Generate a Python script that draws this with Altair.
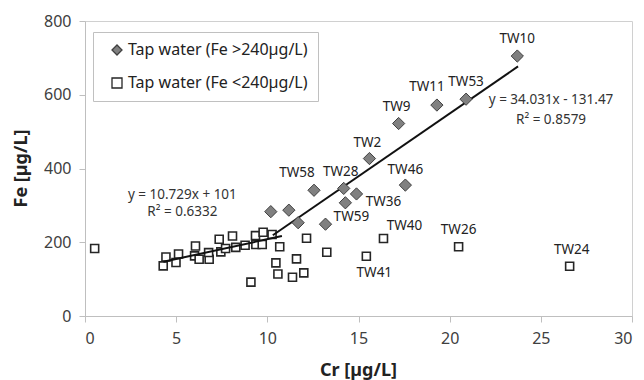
import altair as alt
import pandas as pd

# ---- data ----
hi_label = ["TW10", "TW53", "TW11", "TW9", "TW2", "TW46", "TW58", "TW28", "TW36", "TW59", "", "", "", ""]
hi_cr = [23.71, 20.9, 19.3, 17.2, 15.6, 17.57, 12.56, 14.19, 14.89, 14.28, 10.19, 11.18, 11.69, 13.19]
hi_fe = [705, 588, 572, 522, 427, 355, 341, 346, 331, 307, 283, 287, 253, 249]

lo_label = ["", "", "", "", "", "", "", "", "", "", "", "", "", "", "", "", "", "", "", "", "",
            "", "", "", "", "", "", "", "", "", "TW40", "TW41", "TW26", "TW24"]
lo_cr = [0.53, 4.29, 4.44, 4.99, 5.13, 6.06, 6.01, 6.26, 6.81, 6.78, 7.36, 7.45, 7.71, 8.09, 8.27,
         8.78, 9.35, 9.37, 9.77, 9.72, 10.26, 9.10, 10.47, 10.58, 10.68, 11.38, 11.6, 12.0, 12.15,
         13.26, 16.37, 15.43, 20.49, 26.58]
lo_fe = [183, 136, 160, 145, 168, 190, 163, 154, 154, 172, 208, 174, 183, 217, 186,
         192, 218, 194, 227, 194, 221, 92, 144, 114, 188, 105, 155, 117, 211,
         173, 210, 162, 188, 135]

group_hi = "Tap water (Fe >240µg/L)"
group_lo = "Tap water (Fe <240µg/L)"

# trend lines (from the equations printed on the chart)
fit_lo = {"slope": 10.729, "icpt": 101.0, "x0": 4.3, "x1": 10.8}
fit_hi = {"slope": 34.031, "icpt": -131.47, "x0": 10.3, "x1": 23.75}

eq_text = ["y = 10.729x + 101", "R² = 0.6332", "y = 34.031x - 131.47", "R² = 0.8579"]
eq_x = [5.34, 5.34, 25.56, 25.56]
eq_y = [328, 282, 585, 531]

# ---- tables ----
pts = pd.DataFrame({
    "Cr": hi_cr + lo_cr,
    "Fe": hi_fe + lo_fe,
    "label": hi_label + lo_label,
    "group": [group_hi] * len(hi_cr) + [group_lo] * len(lo_cr),
})
lines = []
for name, f in (("lo", fit_lo), ("hi", fit_hi)):
    for xv in (f["x0"], f["x1"]):
        lines.append({"fit": name, "Cr": xv, "Fe": f["slope"] * xv + f["icpt"]})
lines = pd.DataFrame(lines)
eqs = pd.DataFrame({"text": eq_text, "Cr": eq_x, "Fe": eq_y})

FONT = "Noto Sans"
xs = alt.Scale(domain=[0, 30], nice=False)
ys = alt.Scale(domain=[0, 800], nice=False)

xenc = alt.X("Cr:Q", scale=xs, axis=alt.Axis(
    title="Cr [µg/L]", values=[0, 5, 10, 15, 20, 25, 30], grid=False,
    titleX=273, titleY=54, titleBaseline="middle", titleAlign="center"))
yenc = alt.Y("Fe:Q", scale=ys, axis=alt.Axis(
    title="Fe [µg/L]", values=[0, 200, 400, 600, 800], grid=False,
    titleX=-64, titleY=147, titleAngle=-90, titleBaseline="middle", titleAlign="center"))

shape_scale = alt.Scale(domain=[group_hi, group_lo], range=["diamond", "square"])
fill_scale = alt.Scale(domain=[group_hi, group_lo], range=["#808080", "#ffffff"])
stroke_scale = alt.Scale(domain=[group_hi, group_lo], range=["#404040", "#262626"])
legend = alt.Legend(title=None, orient="none", legendX=8, legendY=11,
                    padding=10, rowPadding=17, symbolOffset=6, labelOffset=3,
                    labelLimit=400, symbolSize=100, labelFontSize=16, labelFont=FONT,
                    labelColor="#222222", strokeColor="#c0c0c0", fillColor="#ffffff",
                    symbolStrokeWidth=1.3)

enc = dict(
    x=xenc, y=yenc,
    shape=alt.Shape("group:N", scale=shape_scale, legend=legend),
    fill=alt.Fill("group:N", scale=fill_scale, legend=legend),
    stroke=alt.Stroke("group:N", scale=stroke_scale, legend=legend),
)

base = alt.Chart(pts)

sq = base.transform_filter(alt.datum.group == group_lo).mark_point(
    filled=False, size=64, strokeWidth=1.6, opacity=1
).encode(**enc)

dm = base.transform_filter(alt.datum.group == group_hi).mark_point(
    filled=True, size=150, strokeWidth=1.0, opacity=1
).encode(**enc)

trend = alt.Chart(lines).mark_line(color="#111111", strokeWidth=2).encode(
    x=alt.X("Cr:Q", scale=xs), y=alt.Y("Fe:Q", scale=ys), detail="fit:N")

# label offsets (pixels) relative to each point
offsets = {
    "TW10": (0, -17), "TW53": (0, -17), "TW11": (-10, -18), "TW9": (-2, -17),
    "TW2": (-2, -16), "TW46": (0, -15), "TW28": (-3, -16), "TW58": (-17, -17),
    "TW36": (27, 8), "TW59": (6, 14), "TW40": (21, -13), "TW26": (0, -17),
    "TW24": (2, -16), "TW41": (8, 17),
}
label_layers = []
for lab, (dx, dy) in offsets.items():
    label_layers.append(
        base.transform_filter(alt.datum.label == lab).mark_text(
            font=FONT, fontSize=13.5, color="#222222", dx=dx, dy=dy,
            align="center", baseline="middle"
        ).encode(x=alt.X("Cr:Q", scale=xs), y=alt.Y("Fe:Q", scale=ys), text="label:N")
    )

eq_layer = alt.Chart(eqs).mark_text(font=FONT, fontSize=13.5, color="#333333",
                                    align="center", baseline="middle").encode(
    x=alt.X("Cr:Q", scale=xs), y=alt.Y("Fe:Q", scale=ys), text="text:N")

chart = alt.layer(sq, trend, dm, *label_layers, eq_layer).resolve_scale(
    shape="shared", fill="shared", stroke="shared"
).properties(
    width=547, height=295,
    autosize=alt.AutoSizeParams(type="none"),
    padding={"left": 85, "top": 21, "right": 12, "bottom": 64},
    background="#ffffff",
).configure_view(
    stroke="#d0d0d0", strokeWidth=1
).configure_axis(
    domainColor="#bfbfbf", tickColor="#bfbfbf", tickSize=6, domainWidth=1,
    labelFont=FONT, labelFontSize=16, labelColor="#404040", labelPadding=8,
    titleFont=FONT, titleFontSize=18, titleFontWeight="bold", titleColor="#222222",
)

chart.save("out.html", embed_options={"renderer": "svg", "actions": False})
